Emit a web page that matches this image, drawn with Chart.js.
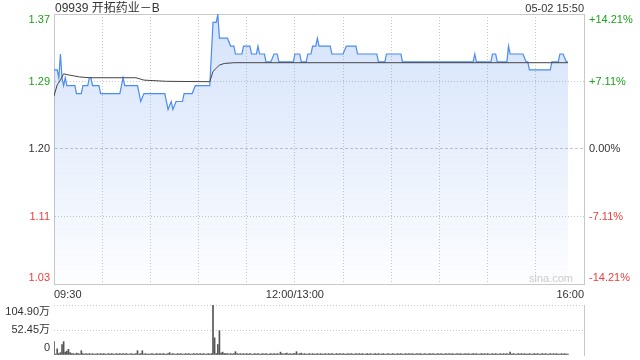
<!DOCTYPE html>
<html>
<head>
<meta charset="utf-8">
<script src="https://cdn.jsdelivr.net/npm/chart.js@4.4.1/dist/chart.umd.min.js"></script>
<style>
    body { margin: 0; background: #fff; width: 640px; height: 360px; position: relative; overflow: hidden;
           font-family: Arial, "Liberation Sans", "Noto Sans CJK SC", sans-serif; }
    canvas { position: absolute; left: 0; }
    #price-chart { top: 0; }
    #volume-chart { top: 300px; }
    .txt { position: absolute; color: #333; white-space: nowrap; line-height: 14px; z-index: 2; }
</style>
</head>
<body>
<canvas id="price-chart" width="640" height="304"></canvas>
<canvas id="volume-chart" width="640" height="60"></canvas>
<div class="txt" style="left:55px; top:1px; font-size:12px;">09939 开拓药业－B</div>
<div class="txt" style="right:56px; top:1px; font-size:11px;">05-02 15:50</div>
<div class="txt" style="right:67px; top:271px; font-size:11px; color:#ccc;">sina.com</div>
<script>
// --- DATA ---
const prevClose = 1.20;
const maxPct = 0.1421;
const volMax = 104.90;

const xTickMinutes = [0, 30, 60, 90, 120, 150, 180, 210, 240, 270, 300, 330];
const xTickLabels = ['09:30', '', '', '', '', '12:00/13:00', '', '', '', '', '', '16:00'];
const priceTickLabels = ['1.03', '1.11', '1.20', '1.29', '1.37'];
const pctTickLabels = ['-14.21%', '-7.11%', '0.00%', '+7.11%', '+14.21%'];
const volTickLabels = ['0', '52.45万', '104.90万'];

// minutes after 09:30 (lunch break removed) where the price changes
const priceMinutes = [0, 2, 3, 4, 5, 6, 7, 8, 13, 14, 17, 18, 21, 22, 23, 24, 28, 29, 41, 43, 44, 52, 54, 56, 69, 71, 73, 74, 76, 80, 81, 86, 88, 97,
    99, 101, 102, 103, 108, 110, 112, 113, 117, 118, 122, 123, 126, 127, 128, 131, 132, 135, 137, 139, 140, 149, 150, 153, 154, 157, 158, 160,
    161, 163, 164, 165, 172, 173, 180, 182, 188, 189, 201, 202, 206, 207, 216, 217, 261, 262, 263, 272, 273, 275, 276, 282, 283, 284, 292,
    294, 295, 296, 309, 310, 314, 315, 317, 319, 320];
const priceValues = [1.30, 1.30, 1.29, 1.32, 1.29, 1.28, 1.29, 1.28, 1.28, 1.27, 1.27, 1.28, 1.28, 1.29, 1.29, 1.28, 1.28, 1.27, 1.27, 1.29, 1.28, 1.28, 1.26, 1.27, 1.27, 1.25, 1.26, 1.25, 1.26, 1.26, 1.27, 1.27, 1.28, 1.28,
    1.36, 1.36, 1.37, 1.34, 1.34, 1.33, 1.33, 1.32, 1.32, 1.33, 1.33, 1.32, 1.32, 1.33, 1.32, 1.32, 1.31, 1.31, 1.32, 1.32, 1.31, 1.31, 1.32, 1.32, 1.31, 1.31, 1.32, 1.32,
    1.33, 1.33, 1.34, 1.33, 1.33, 1.32, 1.32, 1.33, 1.33, 1.32, 1.32, 1.31, 1.31, 1.32, 1.32, 1.31, 1.31, 1.32, 1.31, 1.31, 1.32, 1.32, 1.31, 1.31, 1.33, 1.32, 1.32,
    1.31, 1.31, 1.30, 1.30, 1.31, 1.31, 1.32, 1.32, 1.31, 1.31];

const avgMinutes = [0, 2, 4, 6, 8, 16, 22, 51, 56, 70, 97, 99, 101, 103, 106, 112, 320];
const avgValues = [1.267, 1.281, 1.287, 1.295, 1.294, 1.291, 1.290, 1.290, 1.287, 1.2855, 1.285, 1.298, 1.302, 1.306, 1.308, 1.309, 1.309];

// volume per minute, 万 shares
const volumes = [
    28, 2, 13, 3, 5, 22, 28, 6, 8, 12, 5, 3, 3, 2, 4, 3, 2, 9, 3, 2, 3, 2, 3, 2, 3, 2, 2, 3, 2, 3,
    2, 3, 2, 2, 3, 2, 3, 2, 2, 3, 2, 3, 2, 3, 2, 3, 2, 2, 3, 2, 2, 3, 9, 2, 3, 9, 2, 3, 2, 2,
    2, 3, 2, 2, 3, 2, 3, 2, 3, 2, 2, 3, 5, 2, 3, 2, 2, 3, 2, 3, 2, 2, 3, 2, 3, 2, 2, 3, 2, 3,
    2, 3, 2, 3, 2, 2, 3, 2, 3, 104.9, 36, 3, 22, 51, 4, 6, 3, 3, 3, 2, 3, 2, 3, 7, 3, 2, 3, 2, 3, 2,
    3, 2, 3, 2, 2, 3, 2, 3, 2, 2, 3, 2, 3, 2, 2, 3, 2, 3, 2, 3, 2, 6, 3, 2, 3, 4, 2, 3, 2, 3,
    3, 7, 2, 3, 4, 2, 3, 2, 2, 3, 2, 3, 2, 2, 3, 2, 3, 2, 2, 3, 2, 3, 2, 3, 2, 2, 3, 2, 3, 2,
    3, 2, 2, 3, 2, 3, 2, 2, 3, 2, 3, 2, 3, 2, 2, 3, 2, 3, 2, 2, 3, 2, 3, 2, 2, 3, 2, 2, 3, 2,
    2, 3, 2, 2, 3, 2, 3, 2, 2, 3, 2, 3, 2, 3, 2, 2, 3, 2, 3, 2, 2, 3, 2, 2, 3, 2, 3, 2, 2, 3,
    2, 3, 2, 2, 3, 2, 3, 2, 3, 2, 2, 3, 2, 3, 2, 2, 3, 2, 3, 2, 2, 3, 2, 3, 2, 2, 3, 2, 3, 2,
    3, 2, 2, 3, 2, 3, 2, 2, 3, 2, 3, 2, 3, 2, 6, 2, 3, 2, 2, 3, 2, 3, 2, 3, 2, 2, 3, 2, 2, 3,
    2, 3, 2, 2, 3, 2, 3, 2, 2, 3, 2, 3, 2, 3, 2, 2, 3, 2, 3, 2, 2
];

// --- STYLE ---
const FONT = 'Arial, "Liberation Sans", "Noto Sans CJK SC", sans-serif';
const GRID = '#c8c8c8';
const GREEN = '#1ea01e';
const RED = '#f03c3c';
const TEXT = '#333';
const LEFT_W = 54, RIGHT_W = 56;
const PLOT_H = 270, VOL_H = 50;

Chart.defaults.font.family = FONT;
Chart.defaults.font.size = 11;

const priceMin = prevClose * (1 - maxPct);
const priceMax = prevClose * (1 + maxPct);
const priceInset = (priceMax - priceMin) * 6 / PLOT_H;   // keep edge labels inside the box
const volInset = volMax * 7 / VOL_H;
const tickColors = [RED, RED, TEXT, GREEN, GREEN];

function priceTicks(scale) {
    const step = (priceMax - priceMin) / 4;
    scale.ticks = [0, 1, 2, 3, 4].map(k => ({
        value: priceMin + k * step + (k === 0 ? priceInset : k === 4 ? -priceInset : 0)
    }));
}

function minuteTicks(scale) {
    scale.ticks = xTickMinutes.map(v => ({ value: v }));
}

// fixed axis box, no extra room for overhanging labels
function fixWidth(w) {
    return s => { s.width = w; s.paddingTop = 0; s.paddingBottom = 0; };
}

const toPoints = (xs, ys) => xs.map((x, i) => ({ x, y: ys[i] }));

// --- PRICE CHART ---
new Chart(document.getElementById('price-chart'), {
    type: 'line',
    data: {
        datasets: [
            {
                label: '均价',
                data: toPoints(avgMinutes, avgValues),
                borderColor: '#444',
                borderWidth: 1,
                pointRadius: 0,
                fill: false,
                order: 0
            },
            {
                label: '价格',
                data: toPoints(priceMinutes, priceValues),
                borderColor: '#4a8cf0',
                borderWidth: 1.2,
                pointRadius: 0,
                fill: 'start',
                order: 1,
                backgroundColor: (ctx) => {
                    const area = ctx.chart.chartArea;
                    if (!area) return 'rgba(59,125,235,0.15)';
                    const g = ctx.chart.ctx.createLinearGradient(0, area.top, 0, area.bottom);
                    g.addColorStop(0, 'rgba(59,125,235,0.22)');
                    g.addColorStop(1, 'rgba(59,125,235,0.01)');
                    return g;
                }
            }
        ]
    },
    options: {
        responsive: false,
        animation: false,
        events: [],
        layout: { padding: { top: 14 } },
        plugins: { legend: { display: false }, tooltip: { enabled: false } },
        scales: {
            x: {
                type: 'linear', min: 0, max: 330,
                afterBuildTicks: minuteTicks,
                afterFit: s => { s.height = 20; s.paddingLeft = 0; s.paddingRight = 0; },
                ticks: { autoSkip: false, maxRotation: 0, align: 'inner', padding: 4, color: TEXT,
                         callback: (v, i) => xTickLabels[i] },
                grid: { color: GRID, drawTicks: false },
                border: { color: GRID, dash: ctx => ctx.type === 'tick' ? [1, 2] : [] }
            },
            xTop: {
                type: 'linear', position: 'top', min: 0, max: 330,
                afterFit: s => { s.height = 0; },
                ticks: { display: false },
                grid: { display: false, drawTicks: false },
                border: { color: GRID }
            },
            y: {
                position: 'left', min: priceMin, max: priceMax,
                afterBuildTicks: priceTicks,
                afterFit: fixWidth(LEFT_W),
                ticks: { padding: 4, color: ctx => tickColors[ctx.index], callback: (v, i) => priceTickLabels[i] },
                grid: { drawTicks: false, color: ctx => (ctx.index === 0 || ctx.index === 4) ? 'rgba(0,0,0,0)' : GRID },
                border: { color: GRID, dash: ctx => ctx.type === 'tick' ? (ctx.index === 2 ? [3, 2] : [1, 2]) : [] }
            },
            y2: {
                position: 'right', min: priceMin, max: priceMax,
                afterBuildTicks: priceTicks,
                afterFit: fixWidth(RIGHT_W),
                ticks: { padding: 5, color: ctx => tickColors[ctx.index], callback: (v, i) => pctTickLabels[i] },
                grid: { display: false, drawTicks: false },
                border: { color: GRID }
            }
        }
    }
});

// --- VOLUME CHART ---
new Chart(document.getElementById('volume-chart'), {
    type: 'bar',
    data: {
        datasets: [{
            label: '成交量',
            data: volumes.map((v, i) => ({ x: i, y: v })),
            backgroundColor: '#555',
            barThickness: 1
        }]
    },
    options: {
        responsive: false,
        animation: false,
        events: [],
        layout: { padding: { top: 5, bottom: 5 } },
        plugins: { legend: { display: false }, tooltip: { enabled: false } },
        scales: {
            x: { type: 'linear', min: 0, max: 330, offset: false, display: false },
            yGrid: {
                position: 'left', min: 0, max: volMax,
                afterBuildTicks: s => { s.ticks = [0, volMax / 2, volMax].map(v => ({ value: v })); },
                afterFit: fixWidth(0),
                ticks: { display: false },
                grid: { drawTicks: false, color: ctx => ctx.index === 0 ? 'rgba(0,0,0,0)' : GRID },
                border: { display: false, dash: ctx => ctx.type === 'tick' ? [1, 2] : [] }
            },
            y: {
                position: 'left', min: 0, max: volMax,
                afterBuildTicks: s => {
                    s.ticks = [volInset, volMax / 2, volMax - volInset].map(v => ({ value: v }));
                },
                afterFit: fixWidth(LEFT_W),
                ticks: { padding: 4, color: TEXT, callback: (v, i) => volTickLabels[i] },
                grid: { display: false, drawTicks: false },
                border: { display: false }
            },
            y2: {
                position: 'right', min: 0, max: volMax,
                afterFit: fixWidth(RIGHT_W),
                ticks: { display: false },
                grid: { display: false, drawTicks: false },
                border: { color: GRID }
            }
        }
    }
});
</script>
</body>
</html>
